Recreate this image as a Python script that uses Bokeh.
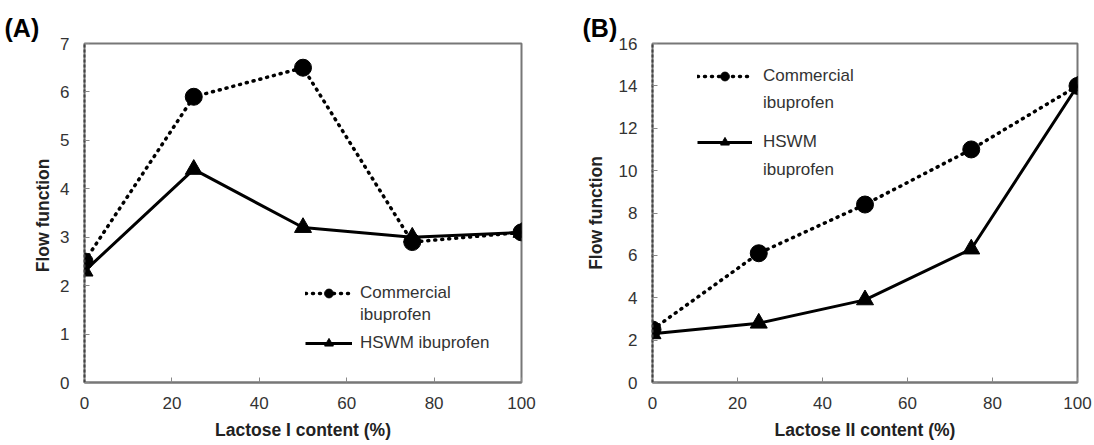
from bokeh.plotting import figure
from bokeh.layouts import row
from bokeh.models import Legend, LegendItem, FixedTicker, Range1d
from bokeh.embed import file_html
from bokeh.resources import INLINE

# Data
x_content = [0, 25, 50, 75, 100]
a_commercial = [2.5, 5.9, 6.5, 2.9, 3.1]
a_hswm = [2.3, 4.4, 3.2, 3.0, 3.1]
b_commercial = [2.5, 6.1, 8.4, 11.0, 14.0]
b_hswm = [2.3, 2.8, 3.9, 6.3, 14.0]
x_ticks = [0, 20, 40, 60, 80, 100]
a_yticks = [0, 1, 2, 3, 4, 5, 6, 7]
b_yticks = [0, 2, 4, 6, 8, 10, 12, 14, 16]

FONT = "Liberation Sans"
TXT = "#333333"
H = 443


def make_legend(items, loc, gw, gh, spacing, standoff):
    return Legend(items=items, location=loc, glyph_width=gw, glyph_height=gh,
                  label_text_font=FONT, label_text_font_size="17px",
                  label_text_color=TXT, background_fill_alpha=0,
                  border_line_color=None, spacing=spacing, label_standoff=standoff,
                  padding=0, margin=0, label_height=gh)


def make_panel(width, bl, br, ymax, yticks, xlabel, ylabel, comm, hswm, tag, tag_off,
               ylab_standoff):
    p = figure(width=width, height=H, output_backend="svg", toolbar_location=None,
               x_range=Range1d(0, 100), y_range=Range1d(0, ymax),
               min_border_left=bl, min_border_right=br, min_border_top=43,
               min_border_bottom=H - 43 - 339)
    p.grid.visible = False
    p.outline_line_color = "#777777"
    p.outline_line_width = 2
    for ax in (p.xaxis[0], p.yaxis[0]):
        ax.axis_line_color = "#777777"
        ax.axis_line_width = 2
        ax.major_tick_in = 5
        ax.major_tick_out = 0
        ax.major_tick_line_color = "#888888"
        ax.minor_tick_line_color = None
        ax.major_label_text_font = FONT
        ax.major_label_text_font_size = "17px"
        ax.major_label_text_color = TXT
        ax.axis_label_text_font = FONT
        ax.axis_label_text_font_style = "bold"
        ax.axis_label_text_font_size = "17.5px"
        ax.axis_label_text_color = "#222222"
    p.yaxis.axis_line_color = "#444444"
    p.yaxis.axis_line_dash = "3 2"
    p.xaxis.ticker = FixedTicker(ticks=x_ticks)
    p.yaxis.ticker = FixedTicker(ticks=yticks)
    p.xaxis.axis_label = xlabel
    p.yaxis.axis_label = ylabel
    p.xaxis.major_label_standoff = 14
    p.xaxis.axis_label_standoff = 8
    p.yaxis.major_label_standoff = 15
    p.yaxis.axis_label_standoff = ylab_standoff

    p.title.text = tag
    p.title.align = "left"
    p.title.offset = tag_off
    p.title.text_font = FONT
    p.title.text_font_style = "bold"
    p.title.text_font_size = "25px"
    p.title.text_color = "black"
    p.title.standoff = 4

    l1 = p.line(x_content, comm, line_color="black", line_width=3.5,
                line_dash="1 6", line_cap="round")
    m1 = p.scatter(x_content, comm, marker="circle", size=17, color="black")
    l2 = p.line(x_content, hswm, line_color="black", line_width=3)
    m2 = p.scatter(x_content, hswm, marker="triangle", size=17, color="black")
    blank = p.line([], [], line_alpha=0)
    return p, l1, m1, l2, m2, blank


pa, l1, m1, l2, m2, blank = make_panel(560, 84, 39, 7, a_yticks, "Lactose I content (%)",
                                       "Flow  function", a_commercial, a_hswm, "(A)", -80, 4)
pa.add_layout(make_legend([LegendItem(label="Commercial", renderers=[l1, m1]),
                           LegendItem(label="ibuprofen", renderers=[blank])],
                          (221, 56), 47, 22, 0, 8))
pa.add_layout(make_legend([LegendItem(label="HSWM ibuprofen", renderers=[l2, m2])],
                          (221, 28), 47, 22, 0, 8))

pb, l1, m1, l2, m2, blank = make_panel(532, 92, 15, 16, b_yticks, "Lactose II content (%)",
                                       "Flow function", b_commercial, b_hswm, "(B)", -70, 10)
pb.add_layout(make_legend([LegendItem(label="Commercial", renderers=[l1, m1]),
                           LegendItem(label="ibuprofen", renderers=[blank])],
                          (45, 268), 55, 22, 5, 11))
pb.add_layout(make_legend([LegendItem(label="HSWM", renderers=[l2, m2]),
                           LegendItem(label="ibuprofen", renderers=[blank])],
                          (45, 201), 55, 22, 6, 11))

layout = row(pa, pb)
open("out.html", "w").write(file_html(layout, INLINE))
